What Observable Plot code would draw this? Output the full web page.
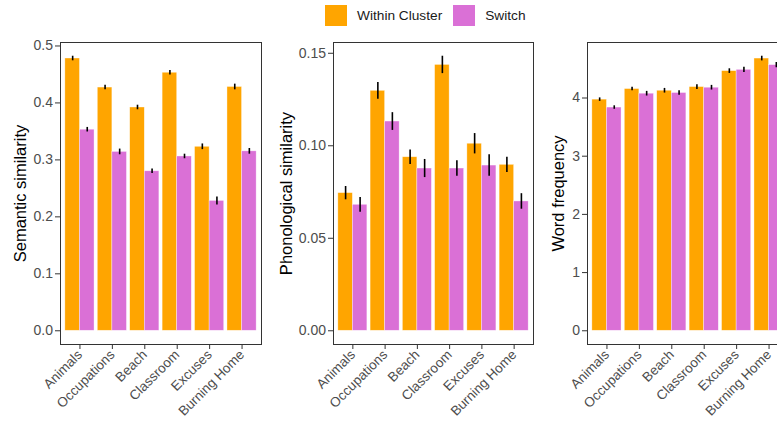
<!DOCTYPE html>
<html><head><meta charset="utf-8">
<script src="https://cdn.jsdelivr.net/npm/d3@7"></script>
<script src="https://cdn.jsdelivr.net/npm/@observablehq/plot@0.6"></script>
<style>
body{margin:0;background:#fff;font-family:"Liberation Sans",Arial,sans-serif;}
#wrap{position:relative;width:777px;height:423px;overflow:hidden;background:#fff;}
#legend{position:absolute;left:325px;top:4px;display:flex;align-items:center;font-size:13.7px;color:#1a1a1a;height:22px;white-space:nowrap}
.sw{width:22px;height:21px;display:inline-block;margin-right:10px}
.it{display:flex;align-items:center;margin-right:11px}
#row{position:absolute;top:30px;left:0;display:flex;}
#row svg{flex:none}
</style></head>
<body><div id="wrap"><div id="legend"></div><div id="row"></div></div>
<script>
const categories = ["Animals", "Occupations", "Beach", "Classroom", "Excuses", "Burning Home"];
const series = ["Within Cluster", "Switch"];
const colors = ["#FFA500", "#DA70D6"];

const semanticWithin = [0.478, 0.427, 0.392, 0.453, 0.323, 0.428];
const semanticWithinErr = [0.004, 0.004, 0.004, 0.004, 0.005, 0.005];
const semanticSwitch = [0.353, 0.314, 0.280, 0.306, 0.228, 0.315];
const semanticSwitchErr = [0.004, 0.005, 0.004, 0.004, 0.007, 0.005];

const phonoWithin = [0.0744, 0.1297, 0.0938, 0.1437, 0.1011, 0.0897];
const phonoWithinErr = [0.0036, 0.0045, 0.0039, 0.0047, 0.0055, 0.0041];
const phonoSwitch = [0.0681, 0.1131, 0.0877, 0.0877, 0.0893, 0.0699];
const phonoSwitchErr = [0.0040, 0.0048, 0.0049, 0.0042, 0.0058, 0.0042];

const freqWithin = [3.972, 4.154, 4.125, 4.188, 4.462, 4.678];
const freqWithinErr = [0.03, 0.03, 0.04, 0.04, 0.04, 0.04];
const freqSwitch = [3.836, 4.074, 4.086, 4.177, 4.484, 4.565];
const freqSwitchErr = [0.03, 0.04, 0.04, 0.04, 0.045, 0.045];

const semanticTicks = [0, 0.1, 0.2, 0.3, 0.4, 0.5];
const phonoTicks = [0, 0.05, 0.10, 0.15];
const freqTicks = [0, 1, 2, 3, 4];

const FONT = '"Liberation Sans", Arial, sans-serif';

// legend
const leg = document.getElementById("legend");
series.forEach((s, k) => {
  const it = document.createElement("div");
  it.className = "it";
  const sw = document.createElement("span");
  sw.className = "sw";
  sw.style.background = colors[k];
  it.appendChild(sw);
  const t = document.createElement("span");
  t.textContent = s;
  it.appendChild(t);
  leg.appendChild(it);
});

function panel({within, withinErr, sw, swErr, title, ticks, fmt, width, marginLeft, titleDx}) {
  const rows = [];
  categories.forEach((c, i) => {
    rows.push({cat: c, i: i + 1, s: 0, series: series[0], value: within[i], err: withinErr[i]});
    rows.push({cat: c, i: i + 1, s: 1, series: series[1], value: sw[i], err: swErr[i]});
  });
  const top = d3.max(rows, d => d.value + d.err);
  return Plot.plot({
    width, height: 393,
    marginLeft, marginRight: 7, marginTop: 12, marginBottom: 79,
    style: {fontFamily: FONT, background: "white", overflow: "visible"},
    x: {type: "linear", domain: [0.4, 6.6]},
    y: {domain: [-0.05 * top, 1.05 * top]},
    color: {domain: series, range: colors},
    marks: [
      Plot.rect(rows, {
        x1: d => d.s === 0 ? d.i - 0.45 : d.i,
        x2: d => d.s === 0 ? d.i : d.i + 0.45,
        y1: 0, y2: "value", fill: "series",
        stroke: "white", strokeWidth: 0.6, strokeOpacity: 0.6
      }),
      Plot.ruleX(rows, {
        x: d => d.s === 0 ? d.i - 0.225 : d.i + 0.225,
        y1: d => d.value - d.err, y2: d => d.value + d.err,
        stroke: "black", strokeWidth: 1.6
      }),
      Plot.frame({stroke: "#333", strokeWidth: 1}),
      Plot.axisY({ticks, tickFormat: d3.format(fmt), tickSize: 5, tickPadding: 2.5, label: null,
        fontSize: 14, stroke: "#333", fill: "#4d4d4d"}),
      Plot.axisX({ticks: d3.range(1, categories.length + 1), tickFormat: i => categories[i - 1],
        tickRotate: -45, tickSize: 5, tickPadding: 3, label: null,
        fontSize: 13.5, stroke: "#333", fill: "#4d4d4d"}),
      Plot.text([title], {frameAnchor: "left", text: d => d, dx: -titleDx, rotate: -90,
        textAnchor: "middle", lineAnchor: "middle", fontSize: 16.5, fill: "black"})
    ]
  });
}

const row = document.getElementById("row");
row.appendChild(panel({within: semanticWithin, withinErr: semanticWithinErr, sw: semanticSwitch, swErr: semanticSwitchErr,
  title: "Semantic similarity", ticks: semanticTicks, fmt: ".1f", width: 268, marginLeft: 60, titleDx: 40}));
row.appendChild(panel({within: phonoWithin, withinErr: phonoWithinErr, sw: phonoSwitch, swErr: phonoSwitchErr,
  title: "Phonological similarity", ticks: phonoTicks, fmt: ".2f", width: 272, marginLeft: 65, titleDx: 47}));
row.appendChild(panel({within: freqWithin, withinErr: freqWithinErr, sw: freqSwitch, swErr: freqSwitchErr,
  title: "Word frequency", ticks: freqTicks, fmt: "d", width: 255, marginLeft: 47, titleDx: 29}));
</script>
</body></html>
